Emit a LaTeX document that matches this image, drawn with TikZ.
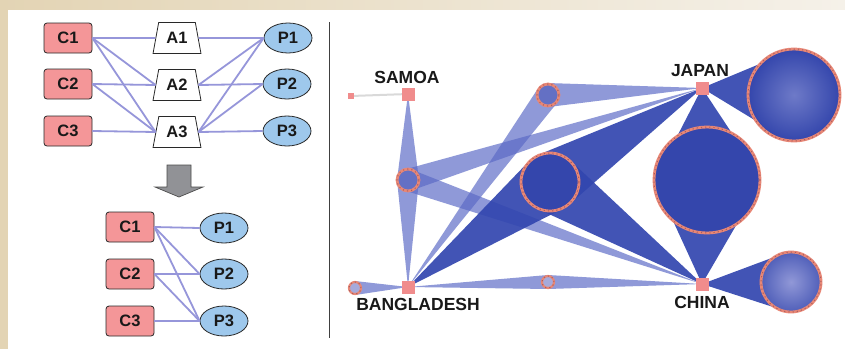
\documentclass[tikz,border=0pt]{standalone}
\usepackage{fontspec}
\setmainfont{Liberation Sans}
\usetikzlibrary{shapes.geometric,calc}
\definecolor{beigeA}{RGB}{227,212,180}
\definecolor{beigeB}{RGB}{245,241,233}
\definecolor{cpink}{RGB}{244,150,152}
\definecolor{pblue}{RGB}{158,200,236}
\definecolor{edgec}{RGB}{150,150,218}
\definecolor{outl}{RGB}{40,40,40}
\definecolor{arrowg}{RGB}{145,146,150}
\definecolor{sqpink}{RGB}{240,140,140}
\definecolor{ringc}{RGB}{232,135,118}
\definecolor{ringd}{RGB}{170,95,95}
\definecolor{lightband}{RGB}{90,105,198}
\definecolor{darkband}{RGB}{50,70,175}
\definecolor{hubdark}{RGB}{52,70,172}
\definecolor{hublight}{RGB}{100,112,196}
\newcommand\wedgeto[4]{\fill[#4] (#2) -- ($(#1)!#3pt!90:(#2)$) -- ($(#1)!#3pt!-90:(#2)$) -- cycle;}
\begin{document}
\begin{tikzpicture}[x=1pt,y=-1pt,
  txt/.style={font=\bfseries\fontsize{16.5}{16.5}\selectfont, text=black!90},
  cbox/.style={txt, draw=outl, fill=cpink, rounded corners=3pt, minimum width=48pt, minimum height=30pt, line width=0.8pt, inner sep=0pt},
  pell/.style={txt, draw=outl, fill=pblue, ellipse, minimum width=48pt, minimum height=30pt, line width=0.8pt, inner sep=0pt},
  atrap/.style={txt, draw=outl, fill=white, trapezium, trapezium left angle=74, trapezium right angle=74, minimum width=48pt, minimum height=31pt, trapezium stretches=true, line width=0.8pt, inner sep=0pt},
  link/.style={edgec, line width=1.8pt},
  country/.style={fill=sqpink, minimum size=13pt, inner sep=0pt},
  clabel/.style={font=\bfseries\fontsize{17.5}{17.5}\selectfont, text=black!90},
  hub/.style={circle, inner sep=0pt, draw=ringc, line width=2.8pt,
     postaction={draw=ringd, line width=1pt, dash pattern=on 1.2pt off 3pt}},
  lb/.style={lightband, opacity=0.68},
  db/.style={darkband, opacity=0.92}
]
\useasboundingbox (0,0) rectangle (845,349);
% background
\fill[white] (0,0) rectangle (845,349);
\shade[left color=beigeA, right color=beigeB] (0,0) rectangle (845,10);
\fill[beigeA] (0,0) rectangle (8,349);
\fill[white] (8,10) rectangle (845,349);

% ---------- left top ----------
\node[cbox] (C1) at (68,38) {C1};
\node[cbox] (C2) at (68,84) {C2};
\node[cbox] (C3) at (68,131) {C3};
\node[atrap] (A1) at (177,38) {A1};
\node[atrap] (A2) at (177,85) {A2};
\node[atrap] (A3) at (177,132) {A3};
\node[pell] (P1) at (288,38) {P1};
\node[pell] (P2) at (287,84) {P2};
\node[pell] (P3) at (287,131) {P3};
\foreach \a/\b in {C1/A1,C1/A2,C1/A3,C2/A2,C2/A3,C3/A3}
  \draw[link] (\a.east) -- (\b.west);
\foreach \a/\b in {A1/P1,A2/P1,A2/P2,A3/P1,A3/P2,A3/P3}
  \draw[link] (\a.east) -- (\b.west);

% block arrow
\draw[fill=arrowg, draw=black!70, line width=0.7pt]
  (167,165) -- (191,165) -- (191,187) -- (203,187) -- (179,197) -- (155,187) -- (167,187) -- cycle;

% ---------- left bottom ----------
\node[cbox] (D1) at (130,227) {C1};
\node[cbox] (D2) at (130,274) {C2};
\node[cbox] (D3) at (130,321) {C3};
\node[pell] (Q1) at (224,228) {P1};
\node[pell] (Q2) at (224,274) {P2};
\node[pell] (Q3) at (224,321) {P3};
\foreach \a/\b in {D1/Q1,D1/Q2,D1/Q3,D2/Q2,D2/Q3,D3/Q3}
  \draw[link] (\a.east) -- (\b.west);

% divider
\coordinate (divT) at (329,22);
\coordinate (divB) at (329,338);
\draw[black!75, line width=0.9pt] (divT) -- (divB);

% ---------- right network ----------
\coordinate (SA) at (408,94);
\coordinate (JP) at (702,88);
\coordinate (BA) at (408,287);
\coordinate (CN) at (702,284);
\coordinate (dt) at (351,96);
\coordinate (h1) at (408,180);
\coordinate (h2) at (548,95);
\coordinate (h3) at (550,182);
\coordinate (h4) at (707,180);
\coordinate (h5) at (794,95);
\coordinate (h6) at (791,282);
\coordinate (h7) at (548,282);
\coordinate (h8) at (355,288);

\draw[black!15, line width=2pt] (dt) -- (SA);
% light bands
\wedgeto{h1}{SA}{11}{lb}
\wedgeto{h1}{BA}{11}{lb}
\wedgeto{h1}{JP}{11}{lb}
\wedgeto{h1}{CN}{11}{lb}
\wedgeto{h2}{JP}{12}{lb}
\wedgeto{h2}{BA}{12}{lb}
\wedgeto{h7}{BA}{7}{lb}
\wedgeto{h7}{CN}{7}{lb}
\wedgeto{h8}{BA}{7}{lb}
% dark wedges
\wedgeto{h3}{JP}{30}{db}
\wedgeto{h3}{CN}{30}{db}
\wedgeto{h3}{BA}{30}{db}
\wedgeto{h4}{JP}{54}{db}
\wedgeto{h4}{CN}{54}{db}
\wedgeto{h5}{JP}{47}{db}
\wedgeto{h6}{CN}{31}{db}

% hubs
\node[hub, minimum size=22pt, fill=hublight] (n1) at (h1) {};
\node[hub, minimum size=22pt, fill=hublight] (n2) at (h2) {};
\node[hub, minimum size=58pt, fill=hubdark] (n3) at (h3) {};
\node[hub, minimum size=106pt, fill=hubdark] (n4) at (h4) {};
\node[hub, minimum size=92pt, shading=radial, inner color={rgb,255:red,110;green,122;blue,200}, outer color=hubdark] (n5) at (h5) {};
\node[hub, minimum size=60pt, shading=radial, inner color={rgb,255:red,145;green,152;blue,215}, outer color={rgb,255:red,80;green,95;blue,185}] (n6) at (h6) {};
\node[hub, minimum size=12pt, line width=2.2pt, fill={rgb,255:red,165;green,170;blue,220}] (n7) at (h7) {};
\node[hub, minimum size=12pt, line width=2.2pt, fill={rgb,255:red,165;green,170;blue,220}] (n8) at (h8) {};

% countries
\node[country, minimum size=6pt] (ndt) at (dt) {};
\node[country] (nSA) at (SA) {};
\node[country] (nJP) at (JP) {};
\node[country] (nBA) at (BA) {};
\node[country] (nCN) at (CN) {};
\node[clabel] (lSA) at (407,77) {SAMOA};
\node[clabel] (lJP) at (700,71) {JAPAN};
\node[clabel] (lBA) at (418,304) {BANGLADESH};
\node[clabel] (lCN) at (702,302) {CHINA};
\end{tikzpicture}
\end{document}
